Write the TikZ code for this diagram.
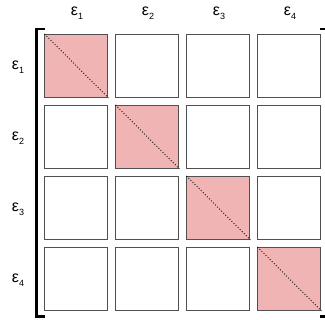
\documentclass[tikz,border=0pt]{standalone}
\usepackage{fontspec}
\setmainfont{Liberation Sans}
\definecolor{cellpink}{RGB}{241,180,180}
\definecolor{cellline}{RGB}{80,80,80}
\newcommand{\epslab}[1]{ε\raisebox{-4pt}{\fontsize{9}{9}\selectfont #1}}
\begin{document}
\begin{tikzpicture}[x=1pt,y=-1pt,
  cell/.style={draw=cellline,line width=0.9pt,minimum size=63pt,inner sep=0pt,anchor=north west},
  diagcell/.style={cell,fill=cellpink},
  lab/.style={font=\fontsize{16}{18}\selectfont,inner sep=0pt},
  brack/.style={line width=2.6pt,line cap=rect}]
\useasboundingbox (0,0) rectangle (325,320);
\foreach \i in {1,...,4}{
  \foreach \j in {1,...,4}{
    \pgfmathsetmacro{\xx}{44.5+71*(\i-1)}
    \pgfmathsetmacro{\yy}{34+71*(\j-1)}
    \ifnum\i=\j
      \node[diagcell] (c\j\i) at (\xx,\yy) {};
      \draw[dotted,line width=0.9pt] (c\j\i.north west) -- (c\j\i.south east);
    \else
      \node[cell] (c\j\i) at (\xx,\yy) {};
    \fi
  }
  \pgfmathsetmacro{\cx}{77+71*(\i-1)}
  \pgfmathsetmacro{\ry}{67+71*(\i-1)}
  \node[lab] (col\i) at (\cx,13) {\epslab{\i}};
  \node[lab] (row\i) at (18,\ry) {\epslab{\i}};
}
\coordinate (tl) at (36.5,29);
\coordinate (bl) at (36.5,316.5);
\draw[brack] (44,29) -- (tl) -- (bl) -- (44,316.5);
\draw[brack] (321.5,29) -- (328,29) -- (328,316.5) -- (321.5,316.5);
\end{tikzpicture}
\end{document}
